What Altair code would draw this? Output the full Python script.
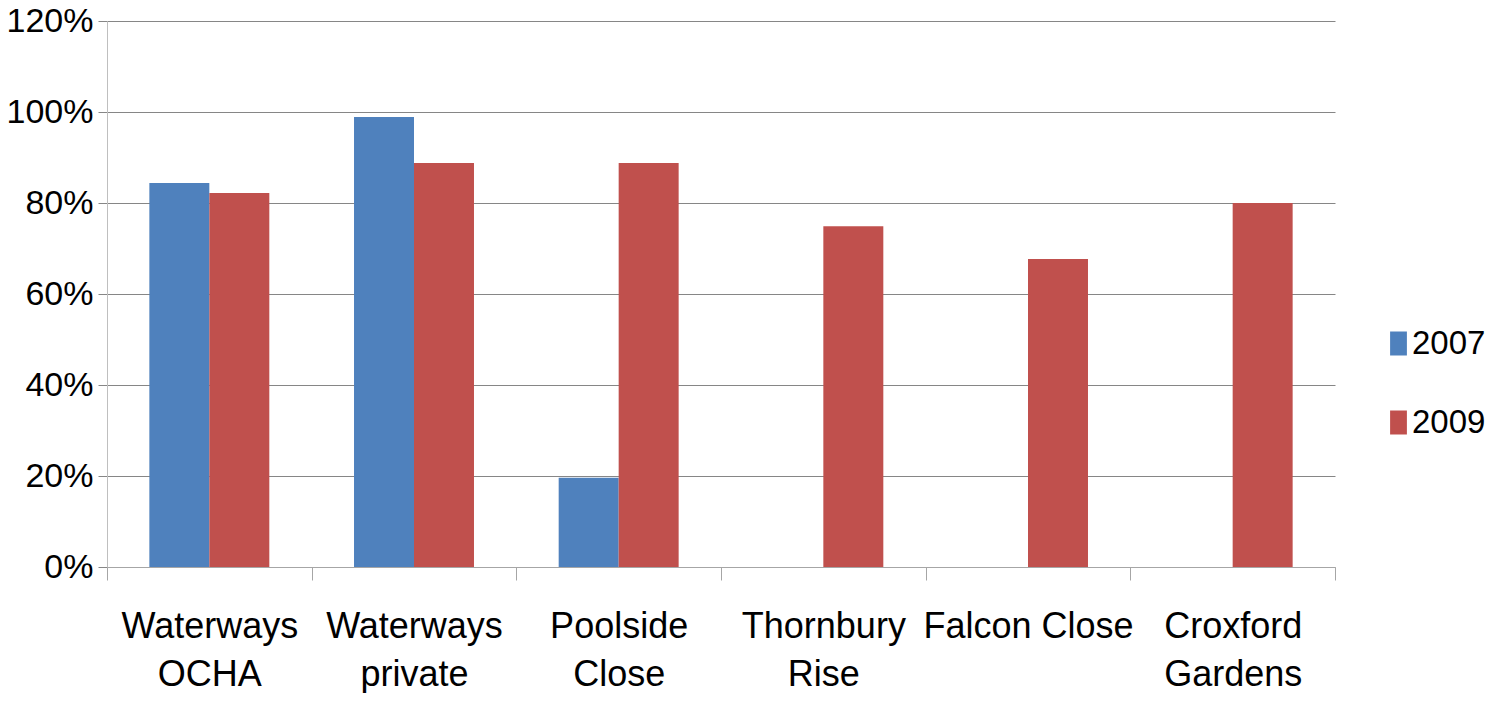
import altair as alt
import pandas as pd

categories = ["Waterways OCHA", "Waterways private", "Poolside Close",
              "Thornbury Rise", "Falcon Close", "Croxford Gardens"]
label_lines = [["Waterways", "OCHA"], ["Waterways", "private"], ["Poolside", "Close"],
               ["Thornbury", "Rise"], ["Falcon Close"], ["Croxford", "Gardens"]]
years = ["2007", "2009"]
values_2007 = [0.844, 0.989, 0.196, None, None, None]
values_2009 = [0.822, 0.888, 0.888, 0.749, 0.677, 0.800]
colors = ["#4F81BD", "#C0504D"]
y_ticks = [0, 0.2, 0.4, 0.6, 0.8, 1.0, 1.2]

rows = []
for yr, vals in zip(years, [values_2007, values_2009]):
    for c, v in zip(categories, vals):
        if v is not None:
            rows.append({"category": c, "year": yr, "value": v})
df = pd.DataFrame(rows)

label_map = "{" + ", ".join(
    "'" + c + "': [" + ", ".join("'" + s + "'" for s in ls) + "]"
    for c, ls in zip(categories, label_lines)) + "}"

FONT = "Liberation Sans, Arial, sans-serif"

chart = alt.Chart(df).mark_bar().encode(
    x=alt.X("category:N", sort=categories,
            scale=alt.Scale(paddingInner=0, paddingOuter=0),
            axis=alt.Axis(title=None, labelAngle=0, tickBand="extent", tickSize=13,
                          tickColor="#a6a6a6", domainColor="#a6a6a6", grid=False,
                          labelFont=FONT, labelFontSize=36, labelColor="#000000",
                          labelLineHeight=48, labelPadding=29, labelBaseline="top",
                          labelLimit=500, labelOverlap=False,
                          labelExpr=label_map + "[datum.label]")),
    xOffset=alt.XOffset("year:N", sort=years,
                        scale=alt.Scale(paddingInner=0, paddingOuter=0.706)),
    y=alt.Y("value:Q", scale=alt.Scale(domain=[0, 1.2], nice=False),
            axis=alt.Axis(title=None, values=y_ticks, format=".0%",
                          domainColor="#bfbfbf", tickColor="#868686", tickSize=9,
                          gridColor="#868686", gridWidth=1,
                          labelFont=FONT, labelFontSize=34, labelColor="#000000",
                          labelPadding=5)),
    color=alt.Color("year:N", sort=years,
                    scale=alt.Scale(domain=years, range=colors),
                    legend=alt.Legend(title=None, orient="none", legendX=1272, legendY=306,
                                      symbolType="M-0.45,-1H0.95V1H-0.45Z",
                                      symbolSize=576, symbolStrokeWidth=0,
                                      labelFont=FONT, labelFontSize=33, labelColor="#000000",
                                      labelOffset=0, rowPadding=45, padding=0)),
).properties(
    width=1228, height=546,
    autosize=alt.AutoSizeParams(type="none"),
    padding={"left": 99, "top": 13, "right": 150, "bottom": 126},
).configure_view(strokeWidth=0)

chart.save("out.html", embed_options={"renderer": "svg", "actions": False})
